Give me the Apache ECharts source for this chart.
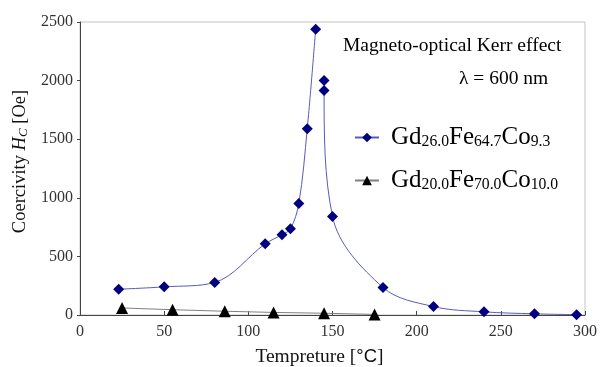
<!DOCTYPE html>
<html>
<head>
<meta charset="utf-8">
<script src="https://cdn.jsdelivr.net/npm/echarts@6/dist/echarts.min.js"></script>
<style>html,body{margin:0;padding:0;background:#fff}#c{width:600px;height:367px}</style>
</head>
<body>
<div id="c"></div>
<script>
// Gd26.0Fe64.7Co9.3 — rising branch and falling branch (no line drawn across the peak)
const tempRise = [23, 50, 80, 110, 120, 125, 130, 135, 140];
const hcRise   = [220, 240, 278, 607, 685, 735, 952, 1590, 2438];
const tempFall = [145, 145, 150, 180, 210, 240, 270, 295];
const hcFall   = [2000, 1915, 840, 235, 72, 27, 10, 3];
// Gd20.0Fe70.0Co10.0
const tempB = [25, 55, 86, 115, 145, 175];
const hcB   = [60, 45, 32, 22, 15, 5];

const xTicks = [0, 50, 100, 150, 200, 250, 300];
const yTicks = [0, 500, 1000, 1500, 2000, 2500];

const nameA = 'Gd26.0Fe64.7Co9.3';
const nameB = 'Gd20.0Fe70.0Co10.0';
const partsA = [['Gd', '26.0'], ['Fe', '64.7'], ['Co', '9.3']];
const partsB = [['Gd', '20.0'], ['Fe', '70.0'], ['Co', '10.0']];

const zip = (xs, ys) => xs.map((x, i) => [x, ys[i]]);
const rich = parts => parts.map(p => '{m|' + p[0] + '}{s|' + p[1] + '}').join('');

const serif = 'Liberation Serif';
const chart = echarts.init(document.getElementById('c'), null, { renderer: 'canvas' });

chart.setOption({
  animation: false,
  backgroundColor: '#fff',
  textStyle: { fontFamily: serif },
  grid: {
    left: 80, right: 15, top: 22, bottom: 52, containLabel: false, outerBoundsMode: 'none',
    show: true, borderColor: '#c4c4c4', borderWidth: 1
  },
  xAxis: {
    type: 'value', min: xTicks[0], max: xTicks[xTicks.length - 1], interval: 50,
    axisLine: { onZero: false, lineStyle: { color: '#444', width: 1 } },
    axisTick: { inside: true, length: 4, lineStyle: { color: '#444' } },
    axisLabel: { fontFamily: serif, fontSize: 16, color: '#333', margin: 9, formatter: v => String(v) },
    splitLine: { show: false },
    name: '{n|Tempreture [}{d|°C}{n|]}',
    nameLocation: 'middle', nameGap: 32,
    nameTextStyle: {
      padding: [0, 26, 0, 0],
      rich: {
        n: { fontFamily: serif, fontSize: 19.5, color: '#111' },
        d: { fontFamily: 'Liberation Sans', fontSize: 18.5, color: '#111' }
      }
    }
  },
  yAxis: {
    type: 'value', min: yTicks[0], max: yTicks[yTicks.length - 1], interval: 500,
    axisLine: { show: true, onZero: false, lineStyle: { color: '#444', width: 1 } },
    axisTick: { show: true, inside: false, length: 3, lineStyle: { color: '#444' } },
    axisLabel: { fontFamily: serif, fontSize: 16, color: '#333', margin: 7, formatter: v => String(v) },
    splitLine: { show: false },
    name: '{n|Coercivity }{i|H}{c|C}{n| [Oe]}',
    nameLocation: 'middle', nameRotate: 90, nameGap: 42,
    nameTextStyle: {
      padding: [0, 0, 0, 14],
      rich: {
        n: { fontFamily: serif, fontSize: 18.5, color: '#111' },
        i: { fontFamily: serif, fontSize: 18.5, fontStyle: 'italic', color: '#111' },
        c: { fontFamily: serif, fontSize: 13, fontStyle: 'italic', color: '#111', padding: [6, 0, 0, 0] }
      }
    }
  },
  legend: {
    orient: 'vertical', left: 349, top: 120, itemWidth: 24, itemHeight: 12, itemGap: 18,
    data: [nameA, nameB],
    formatter: n => rich(n === nameA ? partsA : partsB),
    textStyle: {
      padding: [0, 0, 0, 7],
      rich: {
        m: { fontFamily: serif, fontSize: 25, color: '#000' },
        s: { fontFamily: serif, fontSize: 15.7, color: '#000', padding: [9, 0, 0, 0] }
      }
    }
  },
  graphic: [
    { type: 'text', left: 343, top: 36, style: { text: 'Magneto-optical Kerr effect', font: '19.5px "Liberation Serif"', fill: '#000' } },
    { type: 'text', left: 459, top: 69, style: { text: 'λ = 600 nm', font: '19.5px "Liberation Serif"', fill: '#000' } }
  ],
  series: [
    {
      name: nameA, type: 'line', data: zip(tempRise, hcRise), smooth: 0.35,
      symbol: 'diamond', symbolSize: 11, showAllSymbol: true,
      lineStyle: { color: '#5a5ab8', width: 1 }, itemStyle: { color: '#000080' }
    },
    {
      name: nameA, type: 'line', data: zip(tempFall, hcFall), smooth: 0.35,
      symbol: 'diamond', symbolSize: 11, showAllSymbol: true,
      lineStyle: { color: '#5a5ab8', width: 1 }, itemStyle: { color: '#000080' }
    },
    {
      name: nameB, type: 'line', data: zip(tempB, hcB), smooth: false,
      symbol: 'triangle', symbolSize: 12, showAllSymbol: true,
      lineStyle: { color: '#808080', width: 1 }, itemStyle: { color: '#000' }
    }
  ]
});
</script>
</body>
</html>
